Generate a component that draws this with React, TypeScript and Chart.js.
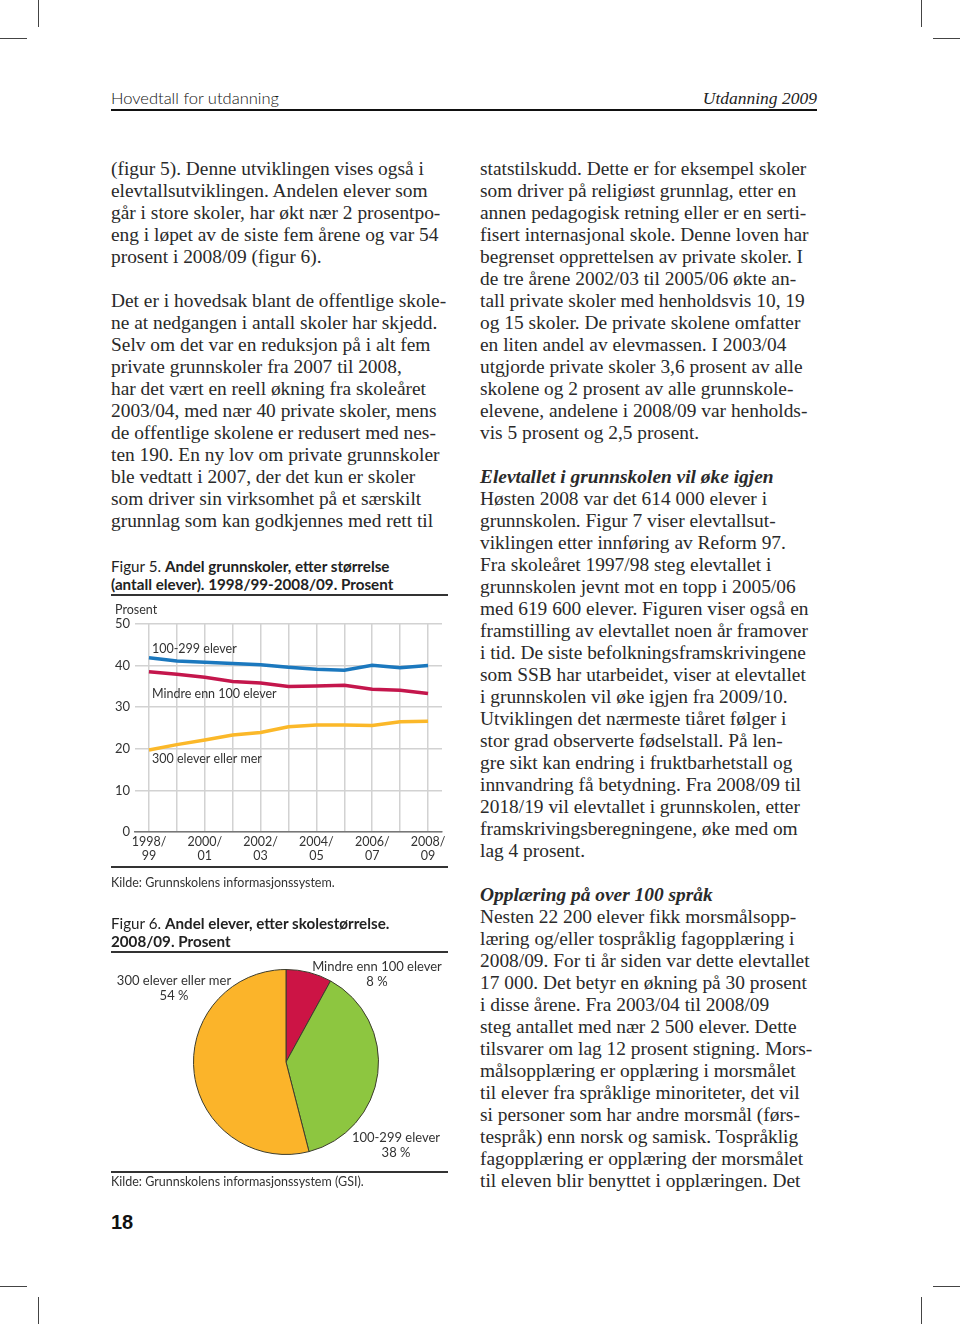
import React, { useEffect, useRef } from 'react';
import { Chart, registerables } from 'chart.js';

Chart.register(...registerables);

// ---------- Figure 5 data ----------
const schoolYears = ['1998/99', '1999/00', '2000/01', '2001/02', '2002/03', '2003/04', '2004/05', '2005/06', '2006/07', '2007/08', '2008/09'];
const xTickLabels = ['1998/\n99', '', '2000/\n01', '', '2002/\n03', '', '2004/\n05', '', '2006/\n07', '', '2008/\n09'];
const yTicks = [0, 10, 20, 30, 40, 50];
const seriesNames = ['100-299 elever', 'Mindre enn 100 elever', '300 elever eller mer'];
const share100to299 = [41.9, 41.1, 40.8, 40.5, 40.2, 39.6, 39.1, 38.9, 40.1, 39.5, 40.0];
const shareUnder100 = [38.5, 37.9, 37.2, 36.2, 35.8, 35.0, 35.1, 35.3, 34.3, 34.1, 33.3];
const share300plus = [19.7, 21.0, 22.1, 23.3, 23.9, 25.3, 25.7, 25.7, 25.6, 26.5, 26.6];
const seriesLabelValues = [44.0, 33.2, 17.5];

// ---------- Figure 6 data ----------
const pieLabels = ['Mindre enn 100 elever', '100-299 elever', '300 elever eller mer'];
const pieValues = [8, 38, 54];

const SANS = 'Lato, "Open Sans", sans-serif';
const SERIF = '"Liberation Serif", serif';
const TXT = '#2a2a2a';

const LEFT_LINES = [
  '(figur 5). Denne utviklingen vises også i',
  'elevtallsutviklingen. Andelen elever som',
  'går i store skoler, har økt nær 2 prosentpo-',
  'eng i løpet av de siste fem årene og var 54',
  'prosent i 2008/09 (figur 6).',
  '',
  'Det er i hovedsak blant de offentlige skole-',
  'ne at nedgangen i antall skoler har skjedd.',
  'Selv om det var en reduksjon på i alt fem',
  'private grunnskoler fra 2007 til 2008,',
  'har det vært en reell økning fra skoleåret',
  '2003/04, med nær 40 private skoler, mens',
  'de offentlige skolene er redusert med nes-',
  'ten 190. En ny lov om private grunnskoler',
  'ble vedtatt i 2007, der det kun er skoler',
  'som driver sin virksomhet på et særskilt',
  'grunnlag som kan godkjennes med rett til',
];

const RIGHT_LINES = [
  'statstilskudd. Dette er for eksempel skoler',
  'som driver på religiøst grunnlag, etter en',
  'annen pedagogisk retning eller er en serti-',
  'fisert internasjonal skole. Denne loven har',
  'begrenset opprettelsen av private skoler. I',
  'de tre årene 2002/03 til 2005/06 økte an-',
  'tall private skoler med henholdsvis 10, 19',
  'og 15 skoler. De private skolene omfatter',
  'en liten andel av elevmassen. I 2003/04',
  'utgjorde private skoler 3,6 prosent av alle',
  'skolene og 2 prosent av alle grunnskole-',
  'elevene, andelene i 2008/09 var henholds-',
  'vis 5 prosent og 2,5 prosent.',
  '',
  '#Elevtallet i grunnskolen vil øke igjen',
  'Høsten 2008 var det 614 000 elever i',
  'grunnskolen. Figur 7 viser elevtallsut-',
  'viklingen etter innføring av Reform 97.',
  'Fra skoleåret 1997/98 steg elevtallet i',
  'grunnskolen jevnt mot en topp i 2005/06',
  'med 619 600 elever. Figuren viser også en',
  'framstilling av elevtallet noen år framover',
  'i tid. De siste befolkningsframskrivingene',
  'som SSB har utarbeidet, viser at elevtallet',
  'i grunnskolen vil øke igjen fra 2009/10.',
  'Utviklingen det nærmeste tiåret følger i',
  'stor grad observerte fødselstall. På len-',
  'gre sikt kan endring i fruktbarhetstall og',
  'innvandring få betydning. Fra 2008/09 til',
  '2018/19 vil elevtallet i grunnskolen, etter',
  'framskrivingsberegningene, øke med om',
  'lag 4 prosent.',
  '',
  '#Opplæring på over 100 språk',
  'Nesten 22 200 elever fikk morsmålsopp-',
  'læring og/eller tospråklig fagopplæring i',
  '2008/09. For ti år siden var dette elevtallet',
  '17 000. Det betyr en økning på 30 prosent',
  'i disse årene. Fra 2003/04 til 2008/09',
  'steg antallet med nær 2 500 elever. Dette',
  'tilsvarer om lag 12 prosent stigning. Mors-',
  'målsopplæring er opplæring i morsmålet',
  'til elever fra språklige minoriteter, det vil',
  'si personer som har andre morsmål (førs-',
  'tespråk) enn norsk og samisk. Tospråklig',
  'fagopplæring er opplæring der morsmålet',
  'til eleven blir benyttet i opplæringen. Det',
];

function TextBlock({ lines, left, top }: { lines: string[]; left: number; top: number }) {
  return (
    <div style={{ position: 'absolute', left, top, fontFamily: SERIF, fontSize: 19.4, lineHeight: '22px', color: TXT, whiteSpace: 'pre' }}>
      {lines.map((l, i) =>
        l.startsWith('#') ? (
          <div key={i} style={{ fontWeight: 700, fontStyle: 'italic' }}>{l.slice(1)}</div>
        ) : (
          <div key={i}>{l || '\u00a0'}</div>
        )
      )}
    </div>
  );
}

function Rule({ top, left = 111, width = 337, h = 1.5, color = '#333' }: any) {
  return <div style={{ position: 'absolute', left, top, width, height: h, background: color }} />;
}

function LineChart() {
  const ref = useRef<HTMLCanvasElement>(null);
  useEffect(() => {
    const labelPlugin = {
      id: 'seriesLabels',
      afterDatasetsDraw(chart: any) {
        const { ctx, scales } = chart;
        const x = scales.x;
        const y = scales.y;
        ctx.save();
        ctx.font = `12.5px ${SANS}`;
        ctx.fillStyle = '#333';
        ctx.textBaseline = 'middle';
        ctx.textAlign = 'left';
        seriesNames.forEach((n, i) => {
          ctx.fillText(n, x.getPixelForValue(0) + 3, y.getPixelForValue(seriesLabelValues[i]));
        });
        ctx.fillText('Prosent', 7, y.getPixelForValue(50) - 14);
        ctx.restore();
      },
    };
    const chart = new Chart(ref.current!, {
      type: 'line',
      data: {
        labels: schoolYears,
        datasets: [
          { label: seriesNames[0], data: share100to299, borderColor: '#1b78be', borderWidth: 3.5, pointRadius: 0, tension: 0 },
          { label: seriesNames[1], data: shareUnder100, borderColor: '#c4164c', borderWidth: 3.5, pointRadius: 0, tension: 0 },
          { label: seriesNames[2], data: share300plus, borderColor: '#fbb829', borderWidth: 3.5, pointRadius: 0, tension: 0 },
        ],
      },
      options: {
        animation: false,
        responsive: false,
        maintainAspectRatio: false,
        layout: { padding: { top: 24, right: 11, left: 0, bottom: 0 } },
        plugins: { legend: { display: false }, tooltip: { enabled: false } },
        scales: {
          x: {
            offset: true,
            grid: { color: '#d2d2d2', lineWidth: 1.5, drawTicks: false, offset: false },
            border: { display: true, color: '#777', width: 1.5 },
            ticks: {
              autoSkip: false,
              maxRotation: 0,
              padding: 3,
              color: '#333',
              font: { family: SANS, size: 12.5, lineHeight: 1.12 },
              callback: (_v: any, i: number) => (xTickLabels[i] ? xTickLabels[i].split('\n') : ''),
            },
            afterFit: (s: any) => { s.height = 38; },
          },
          y: {
            min: 0,
            max: 50,
            afterBuildTicks: (s: any) => { s.ticks = yTicks.map((v) => ({ value: v })); },
            grid: { color: '#d2d2d2', lineWidth: 1.5, drawTicks: false },
            border: { display: false },
            ticks: { padding: 5, color: '#333', font: { family: SANS, size: 13 } },
            afterFit: (s: any) => { s.width = 27; },
          },
        },
      } as any,
      plugins: [labelPlugin],
    });
    return () => chart.destroy();
  }, []);
  return <canvas ref={ref} width={345} height={270} style={{ position: 'absolute', left: 108, top: 600, width: 345, height: 270 }} />;
}

function PieChart() {
  const ref = useRef<HTMLCanvasElement>(null);
  useEffect(() => {
    const offsets = [
      [91, -95],
      [110, 76],
      [-112, -81],
    ];
    const pieLabelPlugin = {
      id: 'pieLabels',
      afterDatasetsDraw(chart: any) {
        const { ctx } = chart;
        const arc = chart.getDatasetMeta(0).data[0];
        const cx = arc.x;
        const cy = arc.y;
        ctx.save();
        ctx.font = `13px ${SANS}`;
        ctx.fillStyle = '#333';
        ctx.textAlign = 'center';
        ctx.textBaseline = 'middle';
        pieLabels.forEach((n, i) => {
          const [dx, dy] = offsets[i];
          ctx.fillText(n, cx + dx, cy + dy);
          ctx.fillText(`${pieValues[i]} %`, cx + dx, cy + dy + 15);
        });
        ctx.restore();
      },
    };
    const chart = new Chart(ref.current!, {
      type: 'pie',
      data: {
        labels: pieLabels,
        datasets: [{ data: pieValues, backgroundColor: ['#cc1445', '#8dc640', '#fbb42a'], borderColor: '#3d3d2d', borderWidth: 1 }],
      },
      options: {
        animation: false,
        responsive: false,
        maintainAspectRatio: false,
        layout: { padding: { top: 14, bottom: 15, left: 11, right: 0 } },
        plugins: { legend: { display: false }, tooltip: { enabled: false } },
      } as any,
      plugins: [pieLabelPlugin],
    });
    return () => chart.destroy();
  }, []);
  return <canvas ref={ref} width={345} height={215} style={{ position: 'absolute', left: 108, top: 955, width: 345, height: 215 }} />;
}

function Crop({ x, y, w, h }: any) {
  return <div style={{ position: 'absolute', left: x, top: y, width: w, height: h, background: '#444' }} />;
}

export default function App() {
  const figTitle = { position: 'absolute' as const, left: 111, fontFamily: SANS, fontSize: 15.2, lineHeight: '18px', color: '#222', whiteSpace: 'pre' as const };
  const kilde = { position: 'absolute' as const, left: 111, fontFamily: SANS, fontSize: 12.5, lineHeight: '16px', color: '#333', whiteSpace: 'pre' as const };
  return (
    <div style={{ position: 'absolute', left: 0, top: 0, width: 960, height: 1324, background: '#fff', overflow: 'hidden' }}>
      {/* crop marks */}
      <Crop x={38} y={0} w={1} h={27} />
      <Crop x={0} y={38} w={27} h={1} />
      <Crop x={921} y={0} w={1} h={27} />
      <Crop x={933} y={38} w={27} h={1} />
      <Crop x={0} y={1286} w={27} h={1} />
      <Crop x={38} y={1297} w={1} h={27} />
      <Crop x={933} y={1286} w={27} h={1} />
      <Crop x={921} y={1297} w={1} h={27} />

      {/* header */}
      <div style={{ position: 'absolute', left: 111, top: 88, fontFamily: SANS, fontWeight: 300, fontSize: 16.5, lineHeight: '20px', color: '#111' }}>Hovedtall for utdanning</div>
      <div style={{ position: 'absolute', right: 960 - 817, top: 88, fontFamily: SERIF, fontStyle: 'italic', fontSize: 17.5, lineHeight: '20px', color: '#222' }}>Utdanning 2009</div>
      <Rule top={109} left={111} width={706} h={2} color="#111" />

      <TextBlock lines={LEFT_LINES} left={111} top={158} />
      <TextBlock lines={RIGHT_LINES} left={480} top={158} />

      {/* Figure 5 */}
      <div style={{ ...figTitle, top: 557 }}>
        <span style={{ fontWeight: 400 }}>Figur 5. </span>
        <b>Andel grunnskoler, etter størrelse</b>
      </div>
      <div style={{ ...figTitle, top: 575, fontWeight: 700 }}>(antall elever). 1998/99-2008/09. Prosent</div>
      <Rule top={594} />
      <LineChart />
      <Rule top={866} />
      <div style={{ ...kilde, top: 875 }}>Kilde: Grunnskolens informasjonssystem.</div>

      {/* Figure 6 */}
      <div style={{ ...figTitle, top: 914 }}>
        <span style={{ fontWeight: 400 }}>Figur 6. </span>
        <b>Andel elever, etter skolestørrelse.</b>
      </div>
      <div style={{ ...figTitle, top: 932, fontWeight: 700 }}>2008/09. Prosent</div>
      <Rule top={951} />
      <PieChart />
      <Rule top={1171} />
      <div style={{ ...kilde, top: 1174 }}>Kilde: Grunnskolens informasjonssystem (GSI).</div>

      {/* page number */}
      <div style={{ position: 'absolute', left: 111, top: 1210, fontFamily: '"Liberation Sans Narrow", "Liberation Sans", sans-serif', fontWeight: 700, fontSize: 20, lineHeight: '24px', color: '#111' }}>18</div>
    </div>
  );
}
